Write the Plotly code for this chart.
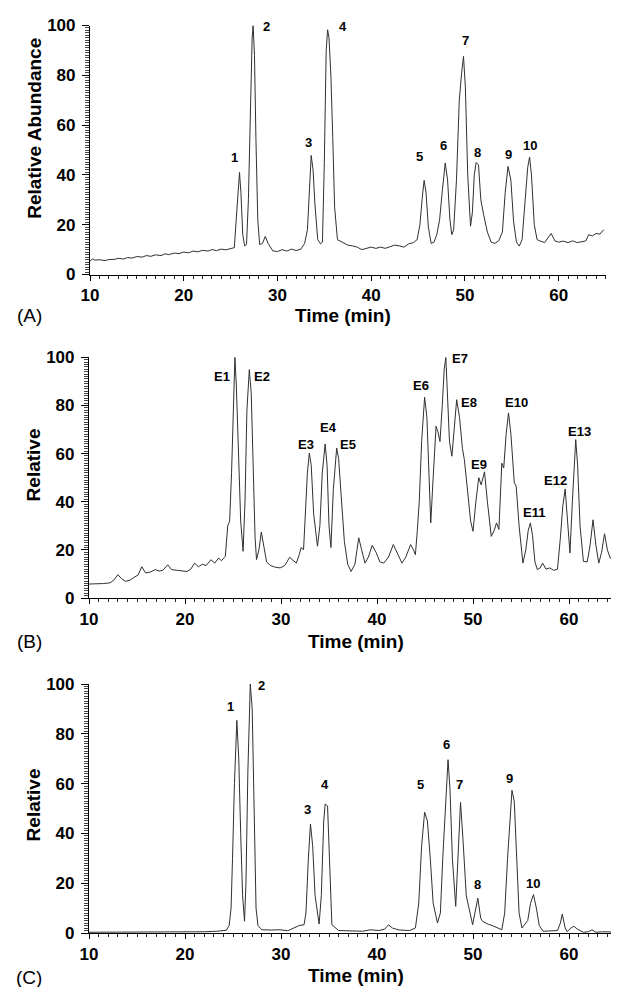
import plotly.graph_objects as go

# ---------------- Panel A data (time in min, relative abundance) ----------------
a_time = [10.0, 10.3, 10.5, 11, 11.6, 12, 12.7, 13, 13.6, 14, 14.5, 15, 15.6, 16, 16.5, 17, 17.6,
          18, 18.4, 19, 19.5, 20, 20.5, 21, 21.5, 22, 22.6, 23, 23.5, 24, 24.5, 25, 25.4,
          25.6, 25.8, 25.95, 26.1, 26.3, 26.5, 26.7, 26.9, 27.1, 27.3, 27.4, 27.55, 27.7, 27.9,
          28.1, 28.4, 28.7, 29.0, 29.5, 30, 30.5, 31, 31.5, 32, 32.5, 32.9, 33.2, 33.4, 33.6,
          33.8, 34.0, 34.3, 34.6, 34.8, 35.0, 35.2, 35.35, 35.5, 35.7, 35.9, 36.1, 36.4, 36.7,
          37, 37.5, 38, 38.5, 39, 39.5, 40, 40.5, 41, 41.5, 42, 42.5, 43, 43.5, 44, 44.5, 44.9,
          45.2, 45.45, 45.65, 45.85, 46.1, 46.4, 46.7, 47.0, 47.3, 47.6, 47.9, 48.15, 48.4, 48.6,
          48.8, 49.1, 49.4, 49.65, 49.85, 50.05, 50.3, 50.6, 50.8, 51.0, 51.2, 51.45, 51.7, 52.0,
          52.4, 52.8, 53.2, 53.6, 54.0, 54.3, 54.6, 54.9, 55.2, 55.5, 55.8, 56.1, 56.4, 56.7,
          56.9, 57.1, 57.4, 57.7, 58.0, 58.5, 59.2, 59.6, 60, 60.5, 61, 61.5, 62, 62.5, 62.9,
          63.2, 63.6, 64, 64.4, 64.8]
a_abund = [5.4, 6.3, 5.8, 5.9, 5.6, 6.0, 6.1, 6.5, 6.2, 6.8, 6.6, 7.2, 7.0, 7.6, 7.3, 7.9, 7.6,
           8.3, 8.0, 8.6, 8.4, 9.0, 8.7, 9.4, 9.1, 9.7, 9.4, 10.0, 9.6, 10.2, 9.9, 10.3, 10.8,
           22, 36, 41, 33, 16, 11.5, 12, 30, 65, 95, 100, 88, 55, 22,
           12, 12.5, 15.3, 12.5, 9.5, 9.2, 10, 9.4, 10.2, 9.6, 10.2, 12.5, 18, 35, 47.8,
           42, 28, 14, 12.3, 13, 45, 90, 98.3, 95, 80, 55, 27, 14, 13.4,
           13, 11.8, 11.5, 11, 10, 10.5, 11, 10.5, 11, 10.5, 11.2, 11.8, 11.5, 11, 12.3, 12.8, 14,
           20, 31, 37.8, 33, 19, 12.5, 13, 16, 22, 34, 44.8, 38, 22, 16,
           18, 38, 70, 81, 87.6, 75, 40, 19.4, 25, 40, 45, 44, 30, 24,
           17, 13, 12.5, 13.5, 17, 33, 43.4, 38, 21, 13, 11.4, 14, 28, 43,
           47.2, 40, 20, 14, 13.5, 12.8, 16.5, 13.5, 13, 13.4, 12.8, 13.5, 12.8, 13.3, 13.5,
           16, 15.5, 16.5, 16.2, 18]
a_labels = ["1", "2", "3", "4", "5", "6", "7", "8", "9", "10"]
a_label_t = [25.4, 28.8, 33.3, 37.0, 45.2, 47.7, 50.1, 51.3, 54.6, 56.9]
a_label_v = [46.8, 99.5, 53.0, 99.5, 47.2, 51.7, 94.0, 48.8, 48.0, 51.9]

# ---------------- Panel B data ----------------
b_time = [10.0, 10.8, 11.5, 12.2, 12.6, 13.0, 13.4, 13.8, 14.3, 14.7, 15.1, 15.5, 15.9, 16.4, 16.9,
          17.3, 17.7, 18.2, 18.6, 19.2, 19.7, 20.2, 20.6, 21.0, 21.4, 21.8, 22.2, 22.7, 23.1, 23.5,
          23.8, 24.2, 24.45, 24.65, 24.85, 25.05, 25.2, 25.35, 25.55, 25.8, 26.05, 26.25, 26.45,
          26.7, 26.9, 27.1, 27.3, 27.45, 27.7, 27.95, 28.2, 28.5, 28.9, 29.4, 29.9, 30.4, 30.9,
          31.3, 31.6, 31.9, 32.1, 32.35, 32.55, 32.75, 32.95, 33.15, 33.4, 33.8, 34.05, 34.3, 34.6,
          34.8, 35.0, 35.2, 35.45, 35.8, 36.0, 36.3, 36.6, 36.95, 37.3, 37.7, 38.1, 38.4, 38.75,
          39.1, 39.5, 39.9, 40.3, 40.7, 41.2, 41.7, 42.1, 42.6, 43.0, 43.5, 43.8, 44.0, 44.2, 44.4,
          44.65, 44.96, 45.2, 45.4, 45.6, 45.85, 46.15, 46.35, 46.56, 46.8, 47.0, 47.17, 47.35,
          47.55, 47.8, 48.05, 48.3, 48.6, 48.9, 49.1, 49.25, 49.5, 49.75, 50.0, 50.3, 50.6, 50.85,
          51.2, 51.5, 51.9, 52.2, 52.45, 52.7, 53.0, 53.2, 53.45, 53.7, 53.95, 54.3, 54.5, 54.8,
          55.2, 55.5, 55.75, 55.98, 56.2, 56.45, 56.7, 57.0, 57.25, 57.6, 58.0, 58.4, 58.8, 59.1,
          59.35, 59.6, 59.85, 60.1, 60.35, 60.55, 60.7, 60.9, 61.15, 61.5, 61.9, 62.2, 62.5, 62.8,
          63.1, 63.4, 63.7, 64.0, 64.3, 64.7, 65.0]
b_rel = [5.8, 5.8, 6.0, 6.3, 7.5, 9.7, 8.0, 6.9, 7.5, 8.6, 9.5, 13.0, 10.4, 10.8, 11.8,
         11.2, 11.5, 13.8, 11.8, 11.5, 11.2, 11.0, 12.0, 14.5, 13.0, 14.0, 13.5, 15.9, 14.5, 16.6,
         15.5, 17.3, 30.0, 31.9, 52, 85, 100, 88, 60, 32, 19.4, 40, 78,
         94.9, 85, 55, 25, 16, 20, 27.4, 22, 15, 13.5, 12.8, 12.5, 13.5, 16.9,
         15.5, 14.5, 18, 21, 20, 35, 52, 60.2, 55, 35, 21.5, 30, 52, 64,
         55, 30, 21, 45, 62.3, 58, 40, 23.5, 14, 11, 14, 25, 20, 14.5,
         17, 21.9, 19, 15, 14.5, 17, 22.2, 19, 14.5, 17, 22.2, 20, 18, 28, 40,
         65, 83.4, 75, 50, 31.2, 50, 71.3, 69, 65, 80, 95, 100, 85,
         65, 58.9, 72, 82.4, 75, 62, 57.5, 52.6, 42, 32, 27.7, 40, 50, 47,
         52.4, 40, 25.6, 28, 31.2, 28.5, 56, 54, 68, 76.9, 68, 48, 46.4, 30,
         14.5, 20, 28, 31.2, 26, 15, 11.8, 12.5, 14.5, 12, 12.5, 11.5, 12, 25,
         38, 45.3, 33, 18.7, 40, 58, 65.8, 55, 30, 15.2, 15, 22, 32.5, 22,
         14.5, 19, 26.7, 20, 16.5, 16.3, 16]
b_labels = ["E1", "E2", "E3", "E4", "E5", "E6", "E7", "E8", "E9", "E10", "E11", "E12", "E13"]
b_label_t = [23.9, 28.0, 32.6, 34.9, 37.0, 44.6, 48.6, 49.6, 50.6, 54.5, 56.4, 58.6, 61.1]
b_label_v = [92.0, 92.0, 63.7, 70.9, 63.7, 88.2, 99.4, 81.3, 55.4, 81.3, 35.7, 48.8, 69.3]

# ---------------- Panel C data ----------------
c_time = [10, 15, 20, 22, 23.3, 24.3, 24.6, 24.8, 24.95, 25.15, 25.4, 25.6, 25.8, 26.0, 26.2,
          26.35, 26.55, 26.8, 27.0, 27.2, 27.4, 27.6, 28.0, 29.0, 29.9, 30.7, 31.3, 31.9, 32.4,
          32.6, 32.85, 33.07, 33.3, 33.55, 33.97, 34.2, 34.45, 34.6, 34.85, 35.05, 35.3, 36.0,
          37.0, 38.5, 39.3, 40.2, 40.8, 41.2, 41.6, 42.3, 43.4, 44.0, 44.35, 44.65, 44.96, 45.25,
          45.55, 45.85, 46.3, 46.6, 46.85, 47.15, 47.4, 47.6, 47.85, 48.2, 48.45, 48.7, 48.95,
          49.3, 49.96, 50.2, 50.5, 50.8, 51.0, 51.6, 52.0, 53.0, 53.3, 53.6, 54.06, 54.3, 54.55,
          54.8, 55.1, 55.7, 56.0, 56.3, 56.6, 56.9, 57.3, 58.8, 59.1, 59.3, 59.6, 59.8, 60.2,
          60.5, 60.9, 61.5, 62.0, 62.4, 62.8, 63.5, 64.5, 65]
c_rel = [0.3, 0.3, 0.3, 0.5, 0.7, 1.1, 3, 10, 30, 60, 85.4, 70, 40, 15, 4.7,
         20, 65, 100, 90, 50, 10, 3, 1.3, 1.2, 1.3, 0.9, 2, 3, 3.3,
         8, 30, 43.8, 35, 15, 3.6, 15, 45, 51.8, 51, 30, 3.3, 1,
         0.8, 0.7, 1.3, 1, 1.5, 3.3, 2, 1.2, 1, 2, 12, 35, 48.5, 45,
         30, 12, 4, 8, 30, 55, 69.6, 58, 30, 10.7, 35, 52.5, 38,
         15, 3.3, 8, 14, 6, 4.7, 3.5, 3, 1.3, 8, 30, 57.3, 52.9, 30,
         8, 2, 5, 12, 15.4, 10, 3, 0.7, 1, 4, 7.6, 2, 0.5, 2,
         2.7, 1.5, 0.3, 0.5, 1.3, 0.3, 0.5, 0.4, 0.5]
c_labels = ["1", "2", "3", "4", "5", "6", "7", "8", "9", "10"]
c_label_t = [24.75, 28.0, 32.75, 34.6, 44.5, 47.2, 48.6, 50.5, 53.85, 56.3]
c_label_v = [90.8, 99.5, 49.8, 59.8, 59.8, 75.6, 59.8, 19.4, 62.2, 20.0]

W, H = 619, 987
FONT = "Liberation Sans, Arial, Helvetica, sans-serif"
LINE = "#303030"

fig = go.Figure()
for i, (tx, vy) in enumerate([(a_time, a_abund), (b_time, b_rel), (c_time, c_rel)]):
    sfx = "" if i == 0 else str(i + 1)
    fig.add_trace(go.Scatter(x=tx, y=vy, mode="lines", xaxis="x" + sfx, yaxis="y" + sfx,
                             line=dict(color=LINE, width=1), showlegend=False,
                             hoverinfo="skip", cliponaxis=False))

def px_x(p):
    return p / W

def px_y(p):
    return 1 - p / H

# panel geometry in pixels: (x_left, x_right, y_top(100), y_bottom(0))
panels = [(82, 597.5, 17.5, 266.5), (81, 609, 349.3, 590), (81, 609, 676, 925)]

def xaxis_dict(dom, anchor):
    return dict(domain=dom, anchor=anchor, range=[10, 65], tickmode="linear", tick0=0, dtick=10,
                showline=True, linecolor="black", linewidth=1.2, showgrid=False, zeroline=False,
                ticks="outside", ticklen=5, tickwidth=1, tickcolor="black",
                minor=dict(dtick=1, tick0=0, ticks="outside", ticklen=3, tickwidth=0.8,
                           tickcolor="#222", showgrid=False),
                tickfont=dict(family=FONT, size=17, color="black", weight="bold"),
                ticklabelstandoff=0, fixedrange=True)

def yaxis_dict(dom, anchor):
    return dict(domain=dom, anchor=anchor, range=[0, 100], tickmode="linear", tick0=0, dtick=20,
                showline=True, linecolor="black", linewidth=1.2, showgrid=False, zeroline=False,
                ticks="outside", ticklen=7, tickwidth=1, tickcolor="black",
                minor=dict(dtick=1, tick0=0, ticks="outside", ticklen=3.5, tickwidth=0.6,
                           tickcolor="#444", showgrid=False),
                tickfont=dict(family=FONT, size=17, color="black", weight="bold"),
                ticklabelstandoff=3, fixedrange=True)

layout = dict(width=W, height=H, margin=dict(l=0, r=0, t=0, b=0, autoexpand=False),
              paper_bgcolor="white", plot_bgcolor="white", showlegend=False)
for i, (xl, xr, yt, yb) in enumerate(panels):
    sfx = "" if i == 0 else str(i + 1)
    layout["xaxis" + sfx] = xaxis_dict([px_x(xl), px_x(xr)], "y" + sfx)
    layout["yaxis" + sfx] = yaxis_dict([px_y(yb), px_y(yt)], "x" + sfx)
fig.update_layout(**layout)

ann = []
label_font = dict(family=FONT, size=13, color="black", weight="bold")
for i, (labs, lt, lv) in enumerate([(a_labels, a_label_t, a_label_v),
                                    (b_labels, b_label_t, b_label_v),
                                    (c_labels, c_label_t, c_label_v)]):
    sfx = "" if i == 0 else str(i + 1)
    for s, t, v in zip(labs, lt, lv):
        ann.append(dict(text=s, x=t, y=v, xref="x" + sfx, yref="y" + sfx, showarrow=False,
                        font=label_font, xanchor="center", yanchor="middle"))

title_font = dict(family=FONT, size=19, color="black", weight="bold")
panel_font = dict(family=FONT, size=19, color="black")
# x-axis titles, y-axis titles, panel letters (pixel positions)
x_titles = [(334.5, 307), (347.6, 633), (347.6, 967)]
y_titles = [("Relative Abundance", 120), ("Relative", 456.7), ("Relative", 796.7)]
letters = [("(A)", 307), ("(B)", 633), ("(C)", 969)]
for (cx, cy) in x_titles:
    ann.append(dict(text="Time (min)", x=px_x(cx), y=px_y(cy), xref="paper", yref="paper",
                    showarrow=False, font=title_font, xanchor="center", yanchor="middle"))
for (s, cy) in y_titles:
    ann.append(dict(text=s, x=px_x(25.7), y=px_y(cy), xref="paper", yref="paper",
                    showarrow=False, font=title_font, textangle=-90,
                    xanchor="center", yanchor="middle"))
for (s, cy) in letters:
    ann.append(dict(text=s, x=px_x(21), y=px_y(cy), xref="paper", yref="paper",
                    showarrow=False, font=panel_font, xanchor="center", yanchor="middle"))
fig.update_layout(annotations=ann)

fig.write_html("out.html")
